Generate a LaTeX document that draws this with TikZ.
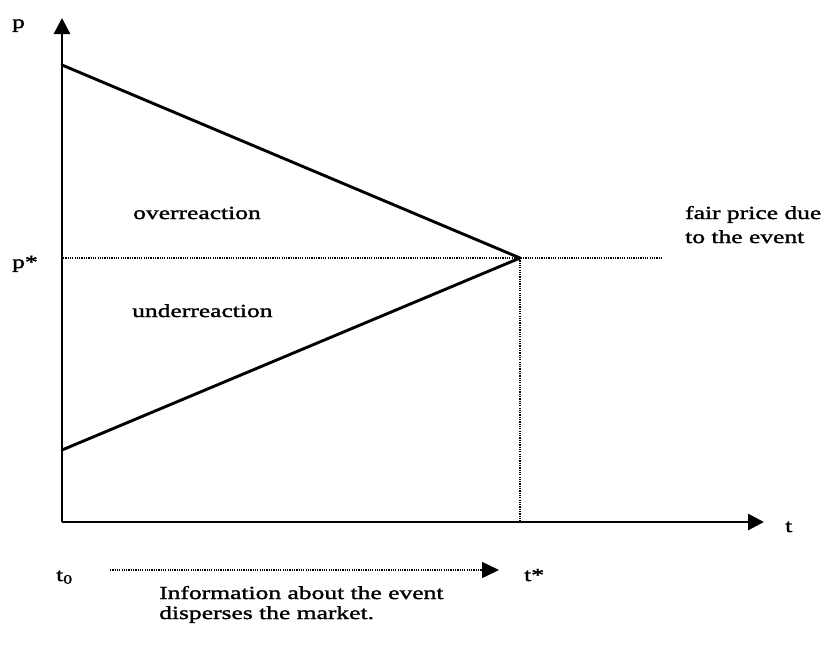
\documentclass[tikz,border=0pt]{standalone}
\usepackage{fontspec}
\setmainfont{Liberation Serif}[FakeStretch=1.38,FakeBold=1.6]
\usetikzlibrary{arrows.meta}
\begin{document}
\begin{tikzpicture}[x=1pt,y=-1pt,
  axis/.style={line width=2.9pt,-{Triangle[length=16pt,width=16pt]}},
  curve/.style={line width=2.9pt,line cap=round},
  guide/.style={line width=1.4pt,dash pattern=on 1.2pt off 1.1pt},
  label/.style={inner sep=0pt,anchor=base west,font=\fontsize{18.5}{20}\selectfont},
  twoline/.style={label,align=left}]
  \useasboundingbox (0,0) rectangle (829,665);

  % axes
  \coordinate (O) at (62,522);
  \coordinate (ytip) at (62,18);
  \coordinate (xtip) at (764,522);
  \draw[axis] (O) -- (ytip);
  \draw[axis] (O) -- (xtip);

  % price paths converging to the fair price
  \coordinate (hi) at (62,65);
  \coordinate (lo) at (62,450);
  \coordinate (fair) at (520,258);
  \draw[curve] (hi) -- (fair);
  \draw[curve] (lo) -- (fair);

  % guide lines
  \coordinate (pstar) at (63,258);
  \coordinate (hend) at (663,258);
  \coordinate (tstar) at (520,522);
  \draw[guide] (pstar) -- (hend);
  \draw[guide] (fair) -- (tstar);

  % information spreading in time
  \coordinate (ia) at (110,570);
  \coordinate (ib) at (499,570);
  \draw[guide,-{Triangle[length=17pt,width=16pt]}] (ia) -- (ib);

  % labels
  \node[label] (lp) at (12,28) {p};
  \node[label] (lpstar) at (12,268) {p*};
  \node[label] (lt) at (785,532) {t};
  \node[label] (lt0) at (56,581) {t\textsubscript{0}};
  \node[label] (ltstar) at (524,581) {t*};
  \node[label] (lover) at (133,219) {overreaction};
  \node[label] (lunder) at (132,317) {underreaction};
  \node[twoline,font=\fontsize{18.5}{24}\selectfont] (lfair) at (685,243) {fair price due\\to the event};
  \node[twoline] (linfo) at (159,619) {Information about the event\\disperses the market.};
\end{tikzpicture}
\end{document}
